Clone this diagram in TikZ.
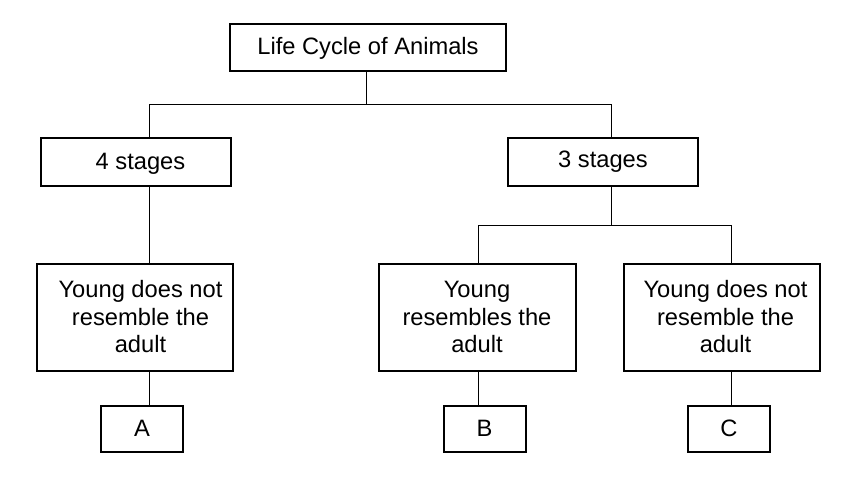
\documentclass[tikz,border=0pt]{standalone}
\usepackage{fontspec}
\setmainfont{Liberation Sans}
\usetikzlibrary{positioning}
\tikzset{
  box/.style={draw=black, fill=white, line width=2pt, align=center,
              font=\fontsize{23.7}{27.5}\selectfont, inner sep=0pt},
  smallbox/.style={box, minimum width=82pt, minimum height=46pt},
  txt/.style={align=center, font=\fontsize{23.7}{27.5}\selectfont, inner sep=0pt},
  ln/.style={draw=black, line width=1pt}
}
\begin{document}
\begin{tikzpicture}[x=1pt, y=-1pt]
  \useasboundingbox (0,0) rectangle (849,487);
  \fill[white] (0,0) rectangle (849,487);

  % branch points
  \coordinate (jtop) at (366,104);
  \coordinate (bL) at (149,104);
  \coordinate (bR) at (611,104);
  \coordinate (bM) at (478,225);
  \coordinate (bC) at (731,225);

  \node[box, minimum width=276pt, minimum height=47pt] (root) at (368,48) {Life Cycle of Animals};
  \node[box, minimum width=190pt, minimum height=48pt] (four) at (135.5,161.5) {};
  \node[txt] (fourtxt) at ([xshift=5pt, yshift=-2pt]four.center) {4 stages};
  \node[box, minimum width=190pt, minimum height=48pt] (three) at (603,161.5) {3 stages};

  \node[box, minimum width=196pt, minimum height=107pt] (youngL) at (134.5,317) {};
  \node[txt] (youngLtxt) at ([xshift=6pt]youngL.center) {Young does not\\resemble the\\adult};
  \node[box, minimum width=197pt, minimum height=107pt] (youngM) at (477,317) {Young\\resembles the\\adult};
  \node[box, minimum width=196pt, minimum height=107pt] (youngR) at (721.5,317) {};
  \node[txt] (youngRtxt) at ([xshift=4pt]youngR.center) {Young does not\\resemble the\\adult};

  \node[smallbox] (nodeA) at (142,428.5) {A};
  \node[smallbox] (nodeB) at (484.5,428.5) {B};
  \node[smallbox] (nodeC) at (729,428.5) {C};

  \draw[ln] (jtop |- root.south) -- (jtop);
  \draw[ln] (four.north -| bL) |- (bR) -- (bR |- three.north);
  \draw[ln] (four.south -| bL) -- (youngL.north -| bL);
  \draw[ln] (youngL.south -| bL) -- (nodeA.north -| bL);

  \draw[ln] (three.south -| bR) -- (bR |- bM);
  \draw[ln] (youngM.north -| bM) |- (bC) -- (youngR.north -| bC);
  \draw[ln] (youngM.south -| bM) -- (nodeB.north -| bM);
  \draw[ln] (youngR.south -| bC) -- (nodeC.north -| bC);
\end{tikzpicture}
\end{document}
